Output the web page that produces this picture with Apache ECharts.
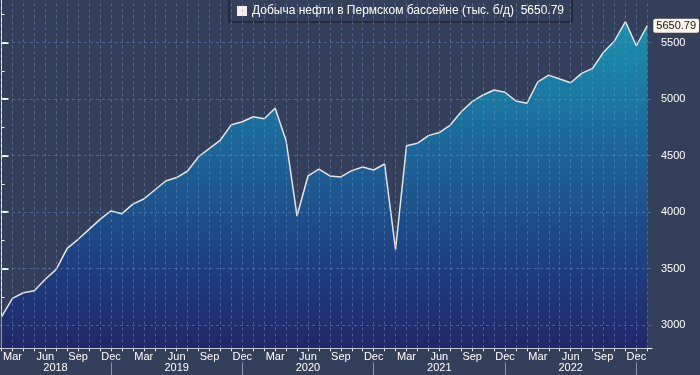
<!DOCTYPE html>
<html><head><meta charset="utf-8">
<script src="https://cdn.jsdelivr.net/npm/echarts@6/dist/echarts.min.js"></script>
<style>html,body{margin:0;padding:0;background:#343f5a}#c{width:700px;height:375px}</style>
</head><body><div id="c"></div>
<script>
// ---- data ----
const months = [
 '2018-02','2018-03','2018-04','2018-05','2018-06','2018-07','2018-08','2018-09','2018-10','2018-11','2018-12',
 '2019-01','2019-02','2019-03','2019-04','2019-05','2019-06','2019-07','2019-08','2019-09','2019-10','2019-11','2019-12',
 '2020-01','2020-02','2020-03','2020-04','2020-05','2020-06','2020-07','2020-08','2020-09','2020-10','2020-11','2020-12',
 '2021-01','2021-02','2021-03','2021-04','2021-05','2021-06','2021-07','2021-08','2021-09','2021-10','2021-11','2021-12',
 '2022-01','2022-02','2022-03','2022-04','2022-05','2022-06','2022-07','2022-08','2022-09','2022-10','2022-11','2022-12',
 '2023-01'
];
const production = [
 3073,3236,3286,3304,3405,3493,3679,3759,3847,3936,4010,
 3986,4071,4116,4196,4275,4306,4364,4490,4565,4638,4774,4800,
 4844,4827,4919,4632,3965,4320,4381,4320,4311,4367,4399,4373,
 4426,3667,4587,4609,4677,4704,4771,4889,4978,5037,5081,5061,
 4984,4963,5154,5213,5178,5145,5228,5272,5415,5515,5686,5473,
 5650.79
];
const seriesName = 'Добыча нефти в Пермском бассейне (тыс. б/д)';
const monthTickNames = {'03':'Mar','06':'Jun','09':'Sep','12':'Dec'};
const yearLabels = ['2018','2019','2020','2021','2022'];
const yLabelValues = [3000,3500,4000,4500,5000,5500];
const yMinorValues = [3250,3750,4250,4750,5250,5750];

// axis extents (month-index units / value units)
const xMin = -0.137, xMax = 59.43;
const yMin = 2794, yMax = 5878;

// ---- derived ----
const firstY = +months[0].slice(0,4), firstM = +months[0].slice(5,7);
const pos = (y, m) => (y - firstY) * 12 + (m - firstM);
const monthIdx = months.map((m,i)=>i);
const labelIdx = monthIdx.filter(i => monthTickNames[months[i].slice(5,7)]);
const decIdx = monthIdx.filter(i => months[i].slice(5,7) === '12');
const yearCenters = yearLabels.map(y => {
  const a = Math.max(xMin, pos(+y - 1, 12));
  const b = Math.min(xMax, pos(+y, 12));
  return (a + b) / 2;
});
const last = production[production.length - 1];
const font = 'Liberation Sans';

const xLines = monthIdx.map(i => ({xAxis: i}));
const yLines = yLabelValues.map(v => ({yAxis: v}));

const chart = echarts.init(document.getElementById('c'));
chart.setOption({
  animation: false,
  backgroundColor: '#343f5a',
  textStyle: {fontFamily: font},
  grid: {left: 0, right: 48, top: 0, bottom: 26.7},
  legend: {
    left: 229, top: -1,
    padding: [6, 8, 5, 2],
    backgroundColor: '#34405a',
    borderColor: '#141922', borderWidth: 1,
    icon: 'rect', itemWidth: 1, itemHeight: 1,
    textStyle: {color: '#ffffff', fontSize: 12, fontFamily: font,
      rich: {
        sq: {width: 10, height: 10, backgroundColor: '#fbeee8'},
        gap: {width: 5}
      }},
    formatter: n => '{sq|}{gap|}' + n + '  ' + last.toFixed(2),
    data: [{name: seriesName, icon: 'rect',
            itemStyle: {color: '#34405a', opacity: 0, borderWidth: 0},
            lineStyle: {width: 0, opacity: 0}}]
  },
  xAxis: [{
    type: 'value', min: xMin, max: xMax, position: 'bottom',
    axisLine: {show: true, lineStyle: {color: '#ffffff', width: 1}},
    axisTick: {show: true, customValues: monthIdx, length: 3, lineStyle: {color: '#ffffff'}},
    axisLabel: {customValues: labelIdx, color: '#ffffff', fontSize: 11, margin: 3,
      formatter: v => monthTickNames[months[Math.round(v)].slice(5,7)]},
    splitLine: {show: false}
  }, {
    type: 'value', min: xMin, max: xMax, position: 'bottom', offset: 14,
    axisLine: {show: false},
    axisTick: {show: true, customValues: decIdx, length: 14, lineStyle: {color: '#8c95a8'}},
    axisLabel: {customValues: yearCenters, color: '#ffffff', fontSize: 11, margin: 0,
      formatter: v => {
        let best = 0;
        yearCenters.forEach((c,k) => { if (Math.abs(c - v) < Math.abs(yearCenters[best] - v)) best = k; });
        return yearLabels[best];
      }},
    splitLine: {show: false}
  }],
  yAxis: [{
    type: 'value', min: yMin, max: yMax, position: 'right',
    axisLine: {show: true, lineStyle: {color: '#ffffff', width: 1}},
    axisTick: {show: true, customValues: yLabelValues, length: 7, lineStyle: {color: '#ffffff', width: 2}},
    axisLabel: {customValues: yLabelValues, color: '#ffffff', fontSize: 11, margin: 9,
      formatter: v => String(Math.round(v))},
    splitLine: {show: false}
  }, {
    type: 'value', min: yMin, max: yMax, position: 'right',
    axisLine: {show: false},
    axisTick: {show: true, customValues: yMinorValues, length: 3, lineStyle: {color: '#ffffff'}},
    axisLabel: {show: false},
    splitLine: {show: false}
  }],
  series: [{
    type: 'line', name: seriesName,
    xAxisIndex: 0, yAxisIndex: 0,
    data: production.map((v,i) => [i, v]),
    symbol: 'none', showSymbol: false,
    lineStyle: {color: '#e4e4e4', width: 1.5},
    itemStyle: {color: '#fbeee8'},
    areaStyle: {
      color: new echarts.graphic.LinearGradient(0, 0, 0, 1, [
        {offset: 0, color: '#1a92ae'},
        {offset: 0.35, color: '#1c6a9a'},
        {offset: 0.7, color: '#1e4383'},
        {offset: 1, color: '#212768'}
      ]),
      opacity: 1
    },
    endLabel: {
      show: true, formatter: p => p.value[1].toFixed(2),
      backgroundColor: '#fdf6ea', color: '#111111', fontSize: 11, fontFamily: font,
      padding: [2, 3, 1, 3], borderRadius: 2, distance: 6
    },
    markLine: {
      silent: true, symbol: 'none', animation: false,
      label: {show: false},
      lineStyle: {type: [3, 3], color: 'rgba(110,145,200,0.5)', width: 1},
      data: xLines.concat(yLines)
    }
  }]
});
</script></body></html>
